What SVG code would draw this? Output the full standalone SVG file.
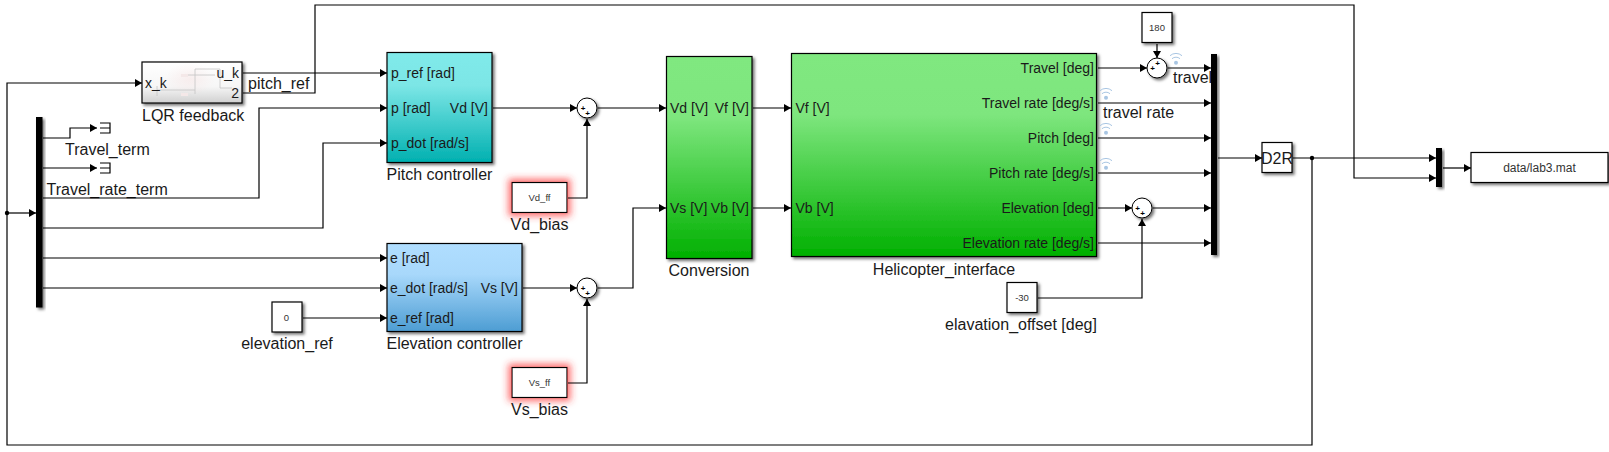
<svg xmlns="http://www.w3.org/2000/svg" width="1609" height="452" viewBox="0 0 1609 452">
<style>
text{font-family:"Liberation Sans",Arial,sans-serif;fill:#1a1a1a}
.n{font-size:16px}.p{font-size:14px}.s{font-size:9.500px;fill:#333;text-anchor:middle}
.m{text-anchor:middle}.e{text-anchor:end}
.b{stroke:#000;stroke-width:1.2;filter:url(#sh)}
.w{fill:#fff}
.c path,.t path{fill:none;stroke:#000;stroke-width:1.2}
.sum{fill:#fff;stroke:#000;stroke-width:1;filter:url(#sh)}
.pl{font-size:8px;font-weight:bold;fill:#000;text-anchor:middle}
.wf path{fill:none;stroke:#a9c6e3;stroke-width:1}
.wf circle{fill:#a9c6e3}
.pv path{fill:none;stroke:#c4c4c4;stroke-width:.8}
.bar{fill:#000;filter:url(#sh)}
</style>
<defs>
<filter id="sh" x="-30%" y="-20%" width="180%" height="150%"><feDropShadow dx="2" dy="2" stdDeviation="1.5" flood-color="#000" flood-opacity=".55"/></filter>
<filter id="gl" x="-40%" y="-80%" width="180%" height="260%"><feMorphology in="SourceAlpha" operator="dilate" radius="3" result="d"/><feGaussianBlur in="d" stdDeviation="3.500" result="bl"/><feFlood flood-color="#ff3030" flood-opacity=".7"/><feComposite in2="bl" operator="in" result="g"/><feMerge><feMergeNode in="g"/><feMergeNode in="SourceGraphic"/></feMerge></filter>
<linearGradient id="gp" x1="0" y1="0" x2="0" y2="1"><stop offset="0" stop-color="#80eaea"/><stop offset=".3" stop-color="#7ce6e6"/><stop offset="1" stop-color="#00b0b0"/></linearGradient>
<linearGradient id="ge" x1="0" y1="0" x2="0" y2="1"><stop offset="0" stop-color="#b0deff"/><stop offset=".35" stop-color="#a8d8fb"/><stop offset="1" stop-color="#4d9dd3"/></linearGradient>
<linearGradient id="gg" x1="0" y1="0" x2="0" y2="1"><stop offset="0" stop-color="#80e880"/><stop offset=".3" stop-color="#7ee67e"/><stop offset="1" stop-color="#00b000"/></linearGradient>
<linearGradient id="gl2" x1="0" y1="0" x2="0" y2="1"><stop offset="0" stop-color="#fff"/><stop offset=".6" stop-color="#f6f6f6"/><stop offset="1" stop-color="#d0d0d0"/></linearGradient>
<radialGradient id="pk"><stop offset="0" stop-color="#f6dcdc" stop-opacity=".4"/><stop offset="1" stop-color="#f6dcdc" stop-opacity="0"/></radialGradient>
<marker id="a" markerWidth="8" markerHeight="8" refX="7" refY="4" orient="auto" markerUnits="userSpaceOnUse"><path d="M0 0L7 4L0 8Z" fill="#000"/></marker>
</defs>
<g id="lqr"><rect class="b" x="142" y="62" width="100" height="41" fill="url(#gl2)"/>
<rect x="165" y="63" width="50" height="32" fill="url(#pk)"/>
<g class="pv"><rect x="181" y="74" width="7" height="3" fill="#f4e8e8"/><rect x="181" y="93" width="7" height="3" fill="#f4e8e8"/><path d="M157 90H195M195 69V94M188 75H215M195 69H220M220 69V88M220 88H232M157 86V96"/></g>
<text class="p" x="145" y="88">x_k</text><text class="p e" x="239" y="78">u_k</text><text class="p e" x="239" y="98">2</text>
<text class="n" x="142" y="121">LQR feedback</text></g>
<text id="pitch_ref_label" class="n" x="248" y="89">pitch_ref</text>
<g id="pitch"><rect class="b" x="387" y="52.500" width="105" height="110" fill="url(#gp)"/>
<text class="p" x="391" y="78">p_ref [rad]</text><text class="p" x="391" y="113">p [rad]</text><text class="p" x="391" y="148">p_dot [rad/s]</text><text class="p e" x="488" y="113">Vd [V]</text>
<text class="n m" x="439.500" y="180">Pitch controller</text></g>
<g id="elev"><rect class="b" x="387" y="243.500" width="135" height="88" fill="url(#ge)"/>
<text class="p" x="390" y="263">e [rad]</text><text class="p" x="390" y="293">e_dot [rad/s]</text><text class="p" x="390" y="323">e_ref [rad]</text><text class="p e" x="518" y="293">Vs [V]</text>
<text class="n m" x="454.500" y="349">Elevation controller</text></g>
<g id="conv"><rect class="b" x="666.500" y="56.500" width="85.500" height="202" fill="url(#gg)"/>
<text class="p" x="670" y="113">Vd [V]</text><text class="p e" x="749" y="113">Vf [V]</text><text class="p" x="670" y="213">Vs [V]</text><text class="p e" x="749" y="213">Vb [V]</text>
<text class="n m" x="709" y="276">Conversion</text></g>
<g id="heli"><rect class="b" x="791.500" y="53.500" width="305" height="203" fill="url(#gg)"/>
<text class="p" x="795.500" y="113">Vf [V]</text><text class="p" x="795.500" y="213">Vb [V]</text>
<text class="p e" x="1094" y="73">Travel [deg]</text><text class="p e" x="1094" y="108">Travel rate [deg/s]</text><text class="p e" x="1094" y="143">Pitch [deg]</text><text class="p e" x="1094" y="178">Pitch rate [deg/s]</text><text class="p e" x="1094" y="213">Elevation [deg]</text><text class="p e" x="1094" y="248">Elevation rate [deg/s]</text>
<text class="n m" x="944" y="275">Helicopter_interface</text></g>
<g id="c0"><rect class="b w" x="272" y="302" width="30" height="30"/><text class="s" x="286.500" y="320.500">0</text><text class="n m" x="287" y="349">elevation_ref</text></g>
<g id="vd"><rect class="w" x="512" y="182.500" width="55" height="30" stroke="#000" stroke-width="1.2" filter="url(#gl)"/><text class="s" x="539.500" y="201">Vd_ff</text><text class="n m" x="539.500" y="230">Vd_bias</text></g>
<g id="vs"><rect class="w" x="512" y="367.500" width="55" height="30" stroke="#000" stroke-width="1.2" filter="url(#gl)"/><text class="s" x="539.500" y="386">Vs_ff</text><text class="n m" x="539.500" y="415">Vs_bias</text></g>
<g id="s1"><circle class="sum" cx="587" cy="108" r="10"/><text class="pl" x="583" y="111">+</text><text class="pl" x="587.500" y="116">+</text></g>
<g id="s2"><circle class="sum" cx="587" cy="288" r="10"/><text class="pl" x="583" y="291">+</text><text class="pl" x="587.500" y="296">+</text></g>
<g id="s3"><circle class="sum" cx="1157" cy="68" r="10"/><text class="pl" x="1157.500" y="65.500">+</text><text class="pl" x="1152.500" y="71">+</text></g>
<g id="s4"><circle class="sum" cx="1142" cy="208" r="10"/><text class="pl" x="1137.500" y="211">+</text><text class="pl" x="1142.500" y="216">+</text></g>
<g id="c180"><rect class="b w" x="1142" y="12.500" width="30" height="30"/><text class="s" x="1157" y="30.500">180</text></g>
<g id="coff"><rect class="b w" x="1007" y="282.500" width="30" height="30"/><text class="s" x="1022" y="301">-30</text><text class="n m" x="1021" y="330">elavation_offset [deg]</text></g>
<g id="d2r"><rect class="b w" x="1262" y="142.500" width="30" height="30"/><text class="n m" x="1277" y="164">D2R</text></g>
<g id="file"><rect class="b w" x="1471" y="152.500" width="137" height="30"/><text class="m" font-size="12" x="1539.500" y="172" style="fill:#333">data/lab3.mat</text></g>
<g id="labels"><text class="n" x="1173" y="83">travel</text><text class="n" x="1103" y="118">travel rate</text></g>
<g id="bus1"><rect class="bar" x="36" y="117" width="6.500" height="190.500"/></g>
<g id="bus2"><rect class="bar" x="1211" y="54" width="6" height="201"/></g>
<g id="bus3"><rect class="bar" x="1436" y="148" width="6" height="39"/></g>
<g id="term1" class="t"><path d="M100 123H110V133H100M100 128H110"/></g>
<g id="term2" class="t"><path d="M100 163H110V173H100M100 168H110"/></g>
<text id="tl1" class="n" x="65" y="155">Travel_term</text>
<text id="tl2" class="n" x="46.500" y="195">Travel_rate_term</text>
<g class="wf" id="wf1" transform="translate(1176 62.700)"><circle r="2"/><path d="M-4-4A6 6 0 0 1 4-4M-6-7A9 9 0 0 1 6-7"/></g>
<g class="wf" id="wf2" transform="translate(1106 97.700)"><circle r="2"/><path d="M-4-4A6 6 0 0 1 4-4M-6-7A9 9 0 0 1 6-7"/></g>
<g class="wf" id="wf3" transform="translate(1106 132.700)"><circle r="2"/><path d="M-4-4A6 6 0 0 1 4-4M-6-7A9 9 0 0 1 6-7"/></g>
<g class="wf" id="wf4" transform="translate(1106 167.700)"><circle r="2"/><path d="M-4-4A6 6 0 0 1 4-4M-6-7A9 9 0 0 1 6-7"/></g>
<g id="connectors" class="c">
<path d="M243 73H387" marker-end="url(#a)"/>
<path d="M243 93H315V5H1354V178H1436" marker-end="url(#a)"/>
<path d="M43 198H259V108H387" marker-end="url(#a)"/>
<path d="M43 228H323V143H387" marker-end="url(#a)"/>
<path d="M43 138H70V128H97" marker-end="url(#a)"/>
<path d="M43 168H97" marker-end="url(#a)"/>
<path d="M43 258H387" marker-end="url(#a)"/>
<path d="M43 288H387" marker-end="url(#a)"/>
<path d="M303 318H387" marker-end="url(#a)"/>
<path d="M493 108H577" marker-end="url(#a)"/>
<path d="M568 198H587V119" marker-end="url(#a)"/>
<path d="M598 108H666" marker-end="url(#a)"/>
<path d="M523 288H577" marker-end="url(#a)"/>
<path d="M568 383H587V299" marker-end="url(#a)"/>
<path d="M598 288H633V208H666" marker-end="url(#a)"/>
<path d="M753 108H791" marker-end="url(#a)"/>
<path d="M753 208H791" marker-end="url(#a)"/>
<path d="M1098 68H1147" marker-end="url(#a)"/>
<path d="M1157 44V58" marker-end="url(#a)"/>
<path d="M1168 68H1211" marker-end="url(#a)"/>
<path d="M1098 103H1211" marker-end="url(#a)"/>
<path d="M1098 138H1211" marker-end="url(#a)"/>
<path d="M1098 173H1211" marker-end="url(#a)"/>
<path d="M1098 208H1132" marker-end="url(#a)"/>
<path d="M1153 208H1211" marker-end="url(#a)"/>
<path d="M1098 243H1211" marker-end="url(#a)"/>
<path d="M1038 298H1142V219" marker-end="url(#a)"/>
<path d="M1218 158H1262" marker-end="url(#a)"/>
<path d="M1293 158H1436" marker-end="url(#a)"/>
<path d="M1312 158V445H7V83H142" marker-end="url(#a)"/>
<path d="M7 213H36" marker-end="url(#a)"/>
<path d="M1443 168H1471" marker-end="url(#a)"/>
<circle cx="1312" cy="158" r="2.2" fill="#000"/>
<circle cx="7" cy="213" r="2.2" fill="#000"/>
</g>
</svg>
